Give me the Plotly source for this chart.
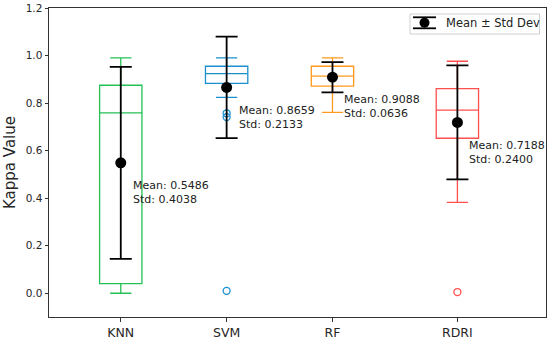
import plotly.graph_objects as go

# ---- data ----
models = ["KNN", "SVM", "RF", "RDRI"]
means = [0.5486, 0.8659, 0.9088, 0.7188]
stds = [0.4038, 0.2133, 0.0636, 0.2400]
q1 = [0.040, 0.883, 0.871, 0.652]
medians = [0.759, 0.924, 0.913, 0.770]
q3 = [0.875, 0.955, 0.955, 0.861]
lower_whisker = [0.000, 0.824, 0.761, 0.382]
upper_whisker = [0.990, 0.990, 0.990, 0.976]
outliers = [[], [0.757, 0.741, 0.010], [], [0.005]]

# ---- layout / style ----
positions = [1, 2, 3, 4.18]
colors = ["#25c055", "#1a8fd0", "#ff9a1f", "#ff4f4f"]
FONT = "DejaVu Sans"
W, H = 550, 339
ML, MR, MT, MB = 49, 4, 8, 22

fig = go.Figure()

for i, m in enumerate(models):
    fig.add_trace(go.Box(
        x=[positions[i]], q1=[q1[i]], median=[medians[i]], q3=[q3[i]],
        lowerfence=[lower_whisker[i]], upperfence=[upper_whisker[i]],
        width=0.40, whiskerwidth=0.5, boxpoints=False,
        line=dict(color=colors[i], width=1.3),
        fillcolor="rgba(0,0,0,0)", showlegend=False, hoverinfo="skip",
    ))
    if outliers[i]:
        fig.add_trace(go.Scatter(
            x=[positions[i]] * len(outliers[i]), y=outliers[i], mode="markers",
            marker=dict(symbol="circle-open", size=7, color=colors[i],
                        line=dict(width=1.3, color=colors[i])),
            showlegend=False, hoverinfo="skip",
        ))

fig.add_trace(go.Scatter(
    x=positions, y=means, mode="markers",
    marker=dict(color="black", size=11),
    error_y=dict(type="data", array=stds, color="black", thickness=1.8, width=11),
    showlegend=False, name="Mean ± Std Dev",
))

for i, m in enumerate(models):
    fig.add_annotation(
        x=positions[i], y=means[i] - 0.125, xshift=10,
        text=f"Mean: {means[i]:.4f}<br>Std: {stds[i]:.4f}",
        showarrow=False, xanchor="left", yanchor="middle", align="left",
        font=dict(family=FONT, size=11, color="#222222"),
    )

# manual legend (paper coordinates computed from pixel layout)
pw, ph = W - ML - MR, H - MT - MB
def px(xp):
    return (xp - ML) / pw
def py(yp):
    return 1 - (yp - MT) / ph

fig.add_shape(type="rect", xref="paper", yref="paper",
              x0=px(410), x1=px(539.5), y0=py(34), y1=py(14),
              line=dict(color="#d0d0d0", width=1), fillcolor="white")
for yy in (17.3, 28.3):
    fig.add_shape(type="line", xref="paper", yref="paper",
                  x0=px(413), x1=px(436), y0=py(yy), y1=py(yy),
                  line=dict(color="black", width=1.8))
fig.add_shape(type="circle", xref="paper", yref="paper",
              x0=px(419.5), x1=px(429.5), y0=py(27.7), y1=py(17.7),
              line=dict(color="black", width=0), fillcolor="black")
fig.add_annotation(xref="paper", yref="paper", x=px(444), y=py(23),
                   text="Mean ± Std Dev", showarrow=False,
                   xanchor="left", yanchor="middle",
                   font=dict(family=FONT, size=11.5, color="#222222"))

fig.update_layout(
    width=W, height=H,
    margin=dict(l=ML, r=MR, t=MT, b=MB, autoexpand=False),
    plot_bgcolor="white", paper_bgcolor="white",
    font=dict(family=FONT, color="#262626"),
    boxmode="overlay",
)
fig.update_xaxes(
    range=[0.322, 5.017], tickvals=positions, ticktext=models,
    showline=True, mirror=True, linecolor="#333333", linewidth=1,
    ticks="outside", ticklen=3.5, tickcolor="#333333", automargin=False,
    showgrid=False, zeroline=False, tickfont=dict(size=12.5, family=FONT),
)
fig.update_yaxes(
    range=[-0.1, 1.2], tickvals=[0.0, 0.2, 0.4, 0.6, 0.8, 1.0, 1.2],
    tickformat=".1f", automargin=False,
    showline=True, mirror=True, linecolor="#333333", linewidth=1,
    ticks="outside", ticklen=3.5, tickcolor="#333333",
    showgrid=False, zeroline=False, tickfont=dict(size=10.5, family=FONT),
    title=dict(text="Kappa Value", font=dict(size=15, family=FONT), standoff=6),
)

fig.write_html(
    "out.html",
    config={"displayModeBar": False},
    post_script="document.body.style.margin='0px';document.body.style.overflow='hidden';",
)
